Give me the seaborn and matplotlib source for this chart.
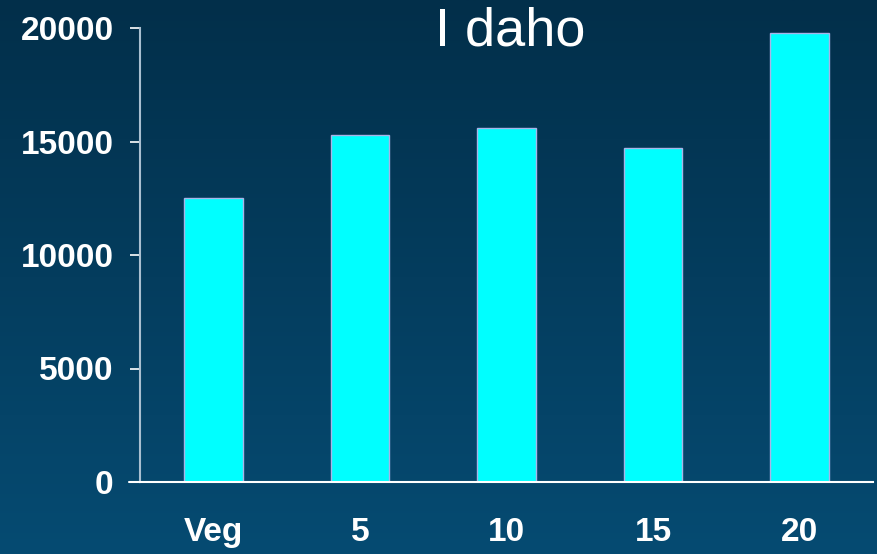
import numpy as np
import pandas as pd
import matplotlib
matplotlib.use("Agg")
import matplotlib.pyplot as plt
import seaborn as sns
from matplotlib.colors import LinearSegmentedColormap

categories = ["Veg", "5", "10", "15", "20"]
values = [12500, 15300, 15600, 14700, 19800]
yticks = [0, 5000, 10000, 15000, 20000]
title = "I daho"

sns.set_theme(style="white")
plt.rcParams["font.family"] = ["Liberation Sans", "DejaVu Sans"]

W, H = 878, 554
fig = plt.figure(figsize=(W / 100, H / 100), dpi=100)

# gradient background
bg = fig.add_axes([0, 0, 1, 1], zorder=-10)
cmap = LinearSegmentedColormap.from_list("bg", ["#022f4a", "#064b72"])
grad = np.linspace(0, 1, 256).reshape(-1, 1)
bg.imshow(grad, aspect="auto", cmap=cmap, extent=[0, 1, 0, 1], origin="upper")
bg.set_axis_off()

left, right = 140 / W, 873 / W
bottom, top = 1 - 482 / H, 1 - 28 / H
ax = fig.add_axes([left, bottom, right - left, top - bottom])
ax.set_facecolor("none")

df = pd.DataFrame({"cat": categories, "val": values})
sns.barplot(data=df, x="cat", y="val", ax=ax, color="#00ffff", saturation=1,
            width=0.4, edgecolor="#a8b4e8", linewidth=1)

ax.set_ylim(0, 20000)
ax.set_xlim(-0.5, len(categories) - 0.5)
ax.set_yticks(yticks)
ax.set_yticklabels([str(t) for t in yticks])
ax.set_xlabel("")
ax.set_ylabel("")

for s in ["top", "right"]:
    ax.spines[s].set_visible(False)
ax.spines["left"].set_color("#a9bfd0")
ax.spines["left"].set_linewidth(1.5)
ax.spines["bottom"].set_color("white")
ax.spines["bottom"].set_linewidth(1.5)
# extend bottom axis line slightly to the left like the original
ax.plot([-11 / 733, 0], [0, 0], transform=ax.get_yaxis_transform(), color="white",
        lw=1.5, clip_on=False)

ax.tick_params(axis="y", colors="white", length=7, width=1.2, pad=12,
               labelsize=24, left=True)
ax.tick_params(axis="x", colors="white", length=0, pad=25, labelsize=24)
for lab in ax.get_xticklabels() + ax.get_yticklabels():
    lab.set_fontweight("bold")
    lab.set_color("white")

fig.text(510 / W, 1 - 46 / H, title, ha="center", va="baseline",
         color="white", fontsize=39)

fig.savefig("out.png", dpi=100, facecolor=fig.get_facecolor())
